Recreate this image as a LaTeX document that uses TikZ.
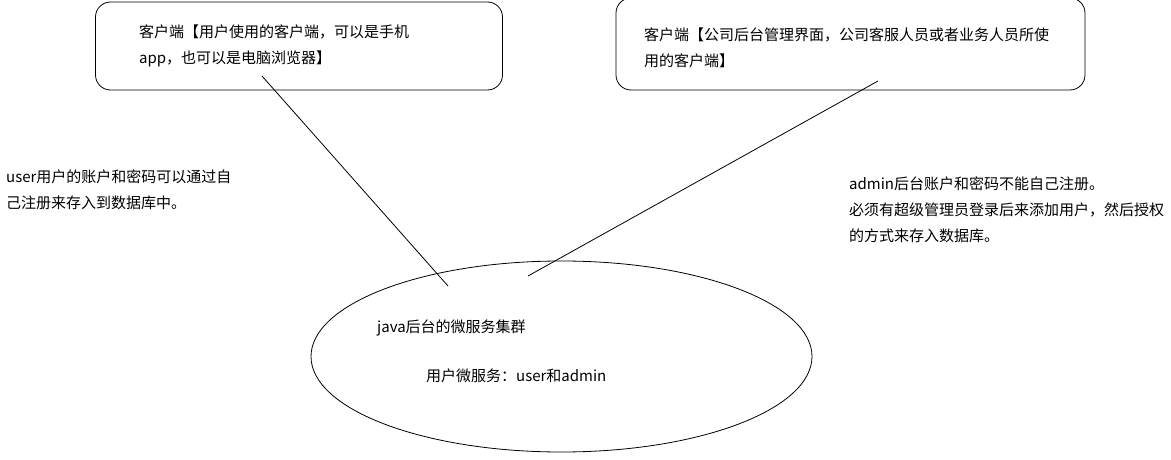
\documentclass[tikz,border=0pt]{standalone}
\usepackage{fontspec}
\setmainfont{Noto Sans CJK SC}
\usetikzlibrary{shapes.geometric}
\tikzset{
  box/.style={draw, rectangle, rounded corners=15pt, inner sep=0pt, line width=0.8pt},
  svcshape/.style={draw, ellipse, inner sep=0pt, line width=0.8pt, minimum width=501pt, minimum height=191pt},
  txt/.style={anchor=west, inner sep=0pt, font=\fontsize{15}{18}\selectfont},
  link/.style={line width=0.8pt}
}
\begin{document}
\begin{tikzpicture}[x=1pt,y=-1pt]
\useasboundingbox (0,0) rectangle (1171,460);
% boxes
\node[box, minimum width=407pt, minimum height=88pt] (lbox) at (299,46) {};
\node[box, minimum width=469pt, minimum height=92pt] (rbox) at (850.5,44) {};
\node[svcshape] (svc) at (561.5,356.5) {};
% texts in boxes
\node[txt] (l1) at (139,32) {客户端【用户使用的客户端，可以是手机};
\node[txt] (l2) at (139,59) {app，也可以是电脑浏览器】};
\node[txt] (r1) at (644,35) {客户端【公司后台管理界面，公司客服人员或者业务人员所使};
\node[txt] (r2) at (644,61) {用的客户端】};
% side texts
\node[txt] (u1) at (6,177) {user用户的账户和密码可以通过自};
\node[txt] (u2) at (6,203) {己注册来存入到数据库中。};
\node[txt] (a1) at (849,184) {admin后台账户和密码不能自己注册。};
\node[txt] (a2) at (849,210) {必须有超级管理员登录后来添加用户，然后授权};
\node[txt] (a3) at (849,236) {的方式来存入数据库。};
% ellipse texts
\node[txt] (s1) at (377,328) {java后台的微服务集群};
\node[txt] (s2) at (426,376) {用户微服务：user和admin};
% connectors
\coordinate (c1a) at (262,76);
\coordinate (c1b) at (448,286);
\coordinate (c2a) at (878,81);
\coordinate (c2b) at (528,276);
\draw[link] (c1a) -- (c1b);
\draw[link] (c2a) -- (c2b);
\end{tikzpicture}
\end{document}
